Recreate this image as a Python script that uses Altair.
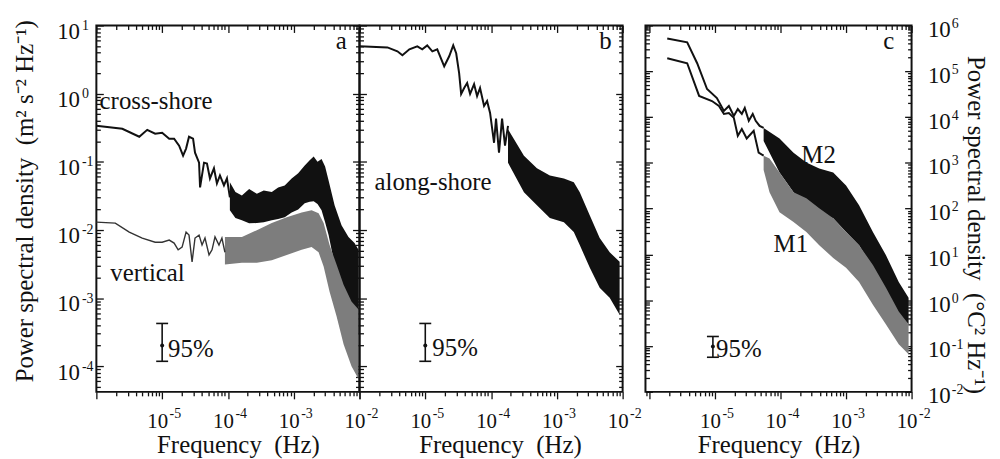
import altair as alt
import pandas as pd

FONT = "Liberation Serif"
BLACK = "#111111"
GREY = "#7d7d7d"

# ---------------- panel a : cross-shore and vertical velocity spectra ----------------
cross_line_f = [1.0e-6, 2.48e-6, 4.49e-6, 5.93e-6, 7.83e-6, 1.0e-5, 1.28e-5, 1.52e-5, 1.81e-5, 2.08e-5,
                2.31e-5, 2.56e-5, 2.95e-5, 3.16e-5, 3.64e-5, 3.77e-5, 4.33e-5, 4.8e-5, 5.33e-5, 6.13e-5,
                6.8e-5, 7.56e-5, 8.7e-5, 9.66e-5, 1.07e-4]
cross_line_v = [0.337, 0.305, 0.233, 0.294, 0.258, 0.267, 0.218, 0.218, 0.172, 0.123,
                0.156, 0.233, 0.218, 0.136, 0.097, 0.042, 0.097, 0.094, 0.057, 0.080,
                0.048, 0.063, 0.045, 0.057, 0.030]
cross_band_f = [1.07e-4, 1.3e-4, 1.63e-4, 2.1e-4, 2.75e-4, 3.5e-4, 4.64e-4, 5.8e-4, 7.3e-4, 9.3e-4,
                1.17e-3, 1.47e-3, 1.75e-3, 2.01e-3, 2.3e-3, 2.65e-3, 3.0e-3, 3.39e-3,
                4.18e-3, 5.33e-3, 6.8e-3, 8.4e-3, 9.66e-3]
cross_band_hi = [0.050, 0.036, 0.032, 0.040, 0.034, 0.038, 0.036, 0.042, 0.045, 0.057,
                 0.068, 0.088, 0.105, 0.12, 0.10, 0.11, 0.085, 0.053,
                 0.023, 0.0117, 0.0079, 0.0064, 0.0051]
cross_band_lo = [0.0195, 0.015, 0.0139, 0.0125, 0.0126, 0.013, 0.0139, 0.0145, 0.0154, 0.018,
                 0.020, 0.0246, 0.026, 0.0263, 0.024, 0.0195, 0.013, 0.0084,
                 0.0031, 0.00132, 0.00068, 0.00041, 0.00029]

vert_line_f = [1.0e-6, 1.94e-6, 3.16e-6, 4.98e-6, 7.83e-6, 1.0e-5, 1.28e-5, 1.52e-5, 1.75e-5, 2.01e-5,
               2.31e-5, 2.56e-5, 2.85e-5, 3.16e-5, 3.64e-5, 4.04e-5, 4.48e-5, 5.16e-5, 5.73e-5, 6.36e-5,
               7.31e-5, 8.1e-5, 9.0e-5]
vert_line_v = [0.0130, 0.0126, 0.0093, 0.0076, 0.0066, 0.0066, 0.0071, 0.0064, 0.0051, 0.0056,
               0.0093, 0.0084, 0.0034, 0.0076, 0.0084, 0.0060, 0.0076, 0.0043, 0.0051, 0.0079,
               0.0060, 0.0076, 0.0047]
vert_band_f = [9.0e-5, 1.63e-4, 2.75e-4, 4.64e-4, 7.83e-4, 1.32e-3, 1.87e-3, 2.39e-3, 2.85e-3, 3.51e-3,
               4.48e-3, 5.73e-3, 7.56e-3, 9.66e-3]
vert_band_hi = [0.0079, 0.0079, 0.0099, 0.0126, 0.0154, 0.018, 0.0195, 0.0176, 0.0126, 0.0060,
                0.0031, 0.00157, 0.00089, 0.00068]
vert_band_lo = [0.0031, 0.0033, 0.0033, 0.0036, 0.0043, 0.0051, 0.0056, 0.0047, 0.0029, 0.00124,
                0.00054, 0.00021, 0.0001, 6.5e-5]

# ---------------- panel b : along-shore velocity spectrum ----------------
along_line_f = [1.0e-6, 2.66e-6, 3.77e-6, 4.49e-6, 5.73e-6, 7.56e-6, 9.0e-6, 1.07e-5, 1.28e-5, 1.52e-5,
                1.94e-5, 2.31e-5, 2.66e-5, 2.95e-5, 3.27e-5, 3.51e-5, 3.9e-5, 4.33e-5, 4.8e-5, 5.52e-5,
                6.13e-5, 6.8e-5, 7.83e-5, 8.7e-5, 9.66e-5, 1.11e-4, 1.19e-4, 1.32e-4, 1.47e-4, 1.63e-4,
                1.81e-4]
along_line_v = [4.94, 4.77, 4.18, 3.66, 4.47, 4.94, 4.47, 5.1, 4.18, 4.47,
                2.52, 3.53, 5.1, 3.91, 2.0, 0.99, 1.21, 1.43, 0.99, 1.38,
                0.92, 1.21, 0.66, 0.78, 0.52, 0.19, 0.43, 0.136, 0.43, 0.172,
                0.337]
along_band_f = [1.81e-4, 3.16e-4, 4.98e-4, 7.83e-4, 1.28e-3, 1.81e-3, 2.23e-3, 3.16e-3, 4.48e-3, 6.36e-3,
                9.0e-3]
along_band_hi = [0.30, 0.123, 0.080, 0.063, 0.057, 0.050, 0.0356, 0.0164, 0.0076, 0.0047, 0.0034]
along_band_lo = [0.097, 0.0356, 0.023, 0.0149, 0.0130, 0.0093, 0.0060, 0.0028, 0.00142, 0.00101, 0.00057]

# ---------------- panel c : temperature spectra M1 / M2 ----------------
m2_line_f = [1.87e-6, 3.77e-6, 5.35e-6, 7.57e-6, 1.07e-5, 1.37e-5, 1.63e-5, 1.94e-5, 2.23e-5, 2.57e-5,
             2.85e-5, 3.28e-5, 3.77e-5, 4.18e-5, 4.8e-5, 5.53e-5]
m2_line_v = [5.2e5, 4.3e5, 1.5e5, 4.1e4, 2.6e4, 1.36e4, 1.75e4, 1.06e4, 1.5e4, 1.17e4,
             1.58e4, 8.3e3, 1.17e4, 8.3e3, 6.4e3, 5.8e3]
m2_band_f = [5.53e-5, 9.66e-5, 1.58e-4, 2.48e-4, 3.9e-4, 6.37e-4, 1.0e-3, 1.58e-3, 2.57e-3, 4.05e-3,
             6.37e-3, 9.0e-3]
m2_band_hi = [5.8e3, 3.4e3, 1.67e3, 1.02e3, 752, 617, 322, 119, 31, 9.8, 2.5, 1.14]
m2_band_lo = [3.0e3, 617, 227, 119, 84, 62, 31, 16, 5.1, 1.54, 0.49, 0.30]

m1_line_f = [1.87e-6, 3.77e-6, 5.73e-6, 9.0e-6, 1.15e-5, 1.37e-5, 1.63e-5, 1.94e-5, 2.23e-5, 2.57e-5,
             3.05e-5, 3.9e-5, 4.64e-5, 5.53e-5]
m1_line_v = [1.92e5, 1.5e5, 2.9e4, 2.24e4, 1.75e4, 1.17e4, 1.23e4, 9.6e3, 3.9e3, 5.5e3,
             3.4e3, 5.0e3, 1.67e3, 1.44e3]
m1_band_f = [5.53e-5, 6.8e-5, 9.66e-5, 1.58e-4, 2.48e-4, 3.9e-4, 6.37e-4, 1.0e-3, 1.58e-3, 2.57e-3,
             4.05e-3, 6.37e-3, 9.0e-3]
m1_band_hi = [1.44e3, 1.24e3, 617, 227, 168, 102, 62, 31, 16, 5.9, 1.9, 0.57, 0.30]
m1_band_lo = [700, 227, 84, 51, 31, 16, 8.4, 5.1, 2.5, 0.80, 0.30, 0.109, 0.066]

# 95% confidence bars (frequency, lower, centre, upper)
ebar_a = [1.0e-5, 1.18e-4, 2.02e-4, 4.24e-4]
ebar_b = [1.0e-5, 1.18e-4, 2.02e-4, 4.24e-4]
ebar_c = [9.3e-6, 0.057, 0.098, 0.162]

# annotations: (text, frequency, value, align)
notes_a = [("a", 5.3e-3, 4.47, "center"), ("cross-shore", 1.12e-6, 0.60, "left"),
           ("vertical", 1.63e-6, 0.0018, "left"), ("95%", 1.23e-5, 1.35e-4, "left")]
notes_b = [("b", 5.5e-3, 4.47, "center"), ("along-shore", 1.69e-6, 0.038, "left"),
           ("95%", 1.28e-5, 1.4e-4, "left")]
notes_c = [("c", 4.49e-3, 3.0e5, "center"), ("M2", 2.08e-4, 1.0e3, "left"),
           ("M1", 7.85e-5, 11.3, "left"), ("95%", 1.04e-5, 0.057, "left")]


def decades(lo, hi):
    return [10.0 ** e for e in range(-9, 9) if lo * 0.999 <= 10.0 ** e <= hi * 1.001]


def minors(lo, hi):
    out = []
    for e in range(-9, 9):
        for k in range(2, 10):
            v = k * 10.0 ** e
            if lo <= v <= hi:
                out.append(v)
    return out


EXP = "'' + round(log(datum.value) / LN10)"


def tick_axis(orient, values, size, offset=0):
    return alt.Axis(orient=orient, values=values, labels=False, domain=False, grid=False,
                    ticks=True, tickSize=size, tickWidth=1.3, tickColor=BLACK, offset=offset,
                    title=None)


def panel(xdom, ydom, W, H, series, notes, ebar, xlab, ylab_side, ylab, ytitle, title_shift):
    xs = alt.Scale(type="log", domain=xdom)
    ys = alt.Scale(type="log", domain=ydom)
    layers = []
    for s in series:
        if s[0] == "band":
            _, f, lo, hi, col = s
            df = pd.DataFrame({"f": f, "lo": lo, "hi": hi})
            layers.append(alt.Chart(df).mark_area(color=col, opacity=1).encode(
                x=alt.X("f:Q", scale=xs, axis=None),
                y=alt.Y("hi:Q", scale=ys, axis=None), y2="lo:Q"))
        else:
            _, f, v, col, w = s
            df = pd.DataFrame({"f": f, "v": v})
            layers.append(alt.Chart(df).mark_line(color=col, strokeWidth=w).encode(
                x=alt.X("f:Q", scale=xs, axis=None),
                y=alt.Y("v:Q", scale=ys, axis=None)))
    # confidence bar
    edf = pd.DataFrame({"f": [ebar[0]], "lo": [ebar[1]], "mid": [ebar[2]], "hi": [ebar[3]]})
    ex = alt.X("f:Q", scale=xs, axis=None)
    layers.append(alt.Chart(edf).mark_rule(color=BLACK, strokeWidth=1.6).encode(
        x=ex, y=alt.Y("hi:Q", scale=ys, axis=None), y2="lo:Q"))
    for fld in ["hi", "lo"]:
        layers.append(alt.Chart(edf).mark_tick(orient="horizontal", size=12, thickness=1.6,
                                               color=BLACK, opacity=1).encode(
            x=ex, y=alt.Y(fld + ":Q", scale=ys, axis=None)))
    layers.append(alt.Chart(edf).mark_point(filled=True, size=16, color=BLACK, opacity=1).encode(
        x=ex, y=alt.Y("mid:Q", scale=ys, axis=None)))
    # text notes
    for t, f, v, al in notes:
        ndf = pd.DataFrame({"f": [f], "v": [v], "t": [t]})
        layers.append(alt.Chart(ndf).mark_text(align=al, baseline="alphabetic", font=FONT,
                                               fontSize=25, color=BLACK).encode(
            x=alt.X("f:Q", scale=xs, axis=None), y=alt.Y("v:Q", scale=ys, axis=None), text="t:N"))

    xmaj = decades(*xdom)
    xmin = minors(*xdom)
    ymaj = decades(*ydom)
    ymin = minors(*ydom)

    x_axes = [
        alt.Axis(orient="bottom", values=xlab, labelExpr="'10'", ticks=False, domain=False, grid=False,
                 labelFont=FONT, labelFontSize=21, labelColor=BLACK, labelPadding=19, labelOffset=-5,
                 labelAlign="center", labelBaseline="top", labelFlush=False, labelOverlap=False,
                 title="Frequency\u00a0\u00a0(Hz)", titleFont=FONT, titleFontSize=25,
                 titleFontWeight="normal", titleColor=BLACK, titlePadding=1, titleX=W / 2 + title_shift),
        alt.Axis(orient="bottom", values=xlab, labelExpr=EXP, ticks=False, domain=False, grid=False,
                 labelFont=FONT, labelFontSize=14, labelColor=BLACK, labelPadding=15, labelOffset=7,
                 labelAlign="left", labelBaseline="top", labelFlush=False, labelOverlap=False, title=None),
        tick_axis("bottom", xmaj, 7),
        tick_axis("bottom", xmin, 4),
        tick_axis("bottom", xmaj, 7, -H),
        tick_axis("bottom", xmin, 4, -H),
    ]
    if ylab_side == "left":
        y10 = alt.Axis(orient="left", values=ylab, labelExpr="'10'", ticks=False, domain=False, grid=False,
                       labelFont=FONT, labelFontSize=23, labelColor=BLACK, labelPadding=17, labelOffset=6,
                       labelAlign="right", labelBaseline="middle", labelFlush=False, labelOverlap=False,
                       title=ytitle, titleFont=FONT, titleFontSize=25, titleFontWeight="normal",
                       titleColor=BLACK, titlePadding=19, titleY=H / 2 - 8)
        yexp = alt.Axis(orient="left", values=ylab, labelExpr=EXP, ticks=False, domain=False, grid=False,
                        labelFont=FONT, labelFontSize=14, labelColor=BLACK, labelPadding=15, labelOffset=0,
                        labelAlign="left", labelBaseline="middle", labelFlush=False, labelOverlap=False,
                        title=None)
    elif ylab_side == "right":
        y10 = alt.Axis(orient="right", values=ylab, labelExpr="'10'", ticks=False, domain=False, grid=False,
                       labelFont=FONT, labelFontSize=23, labelColor=BLACK, labelPadding=16, labelOffset=4,
                       labelAlign="left", labelBaseline="middle", labelFlush=False, labelOverlap=False,
                       title=ytitle, titleFont=FONT, titleFontSize=25, titleFontWeight="normal",
                       titleColor=BLACK, titlePadding=12, titleY=H / 2 + 16)
        yexp = alt.Axis(orient="right", values=ylab, labelExpr=EXP, ticks=False, domain=False, grid=False,
                        labelFont=FONT, labelFontSize=14, labelColor=BLACK, labelPadding=40, labelOffset=-2,
                        labelAlign="left", labelBaseline="middle", labelFlush=False, labelOverlap=False,
                        title=None)
    else:
        y10 = None
        yexp = None
    y_axes = [
        y10, yexp,
        tick_axis("right", ymaj, 7, -W),
        tick_axis("right", ymin, 4, -W),
        tick_axis("left", ymaj, 7, -W),
        tick_axis("left", ymin, 4, -W),
    ]
    dummy = pd.DataFrame({"f": [xdom[0] * 2], "v": [ydom[0] * 2]})
    for xa, ya in zip(x_axes, y_axes):
        layers.append(alt.Chart(dummy).mark_point(opacity=0).encode(
            x=alt.X("f:Q", scale=xs, axis=xa),
            y=alt.Y("v:Q", scale=ys, axis=ya)))
    return alt.layer(*layers).properties(width=W, height=H).resolve_axis(x="independent", y="independent")


H = 369
ydom_ab = [4.2e-5, 10.0]
xlab_ab = [1e-5, 1e-4, 1e-3, 1e-2]

pa = panel([1e-6, 1e-2], ydom_ab, 265, H,
           [("band", cross_band_f, cross_band_lo, cross_band_hi, BLACK),
            ("line", cross_line_f, cross_line_v, BLACK, 2.0),
            ("band", vert_band_f, vert_band_lo, vert_band_hi, GREY),
            ("line", vert_line_f, vert_line_v, "#333333", 1.4)],
           notes_a, ebar_a, xlab_ab, "left", [1e-4, 1e-3, 1e-2, 1e-1, 1.0, 10.0],
           "Power spectral density\u00a0\u00a0(m\u00b2 s\u207b\u00b2 Hz\u207b\u00b9)", 10)

pb = panel([1e-6, 1e-2], ydom_ab, 265, H,
           [("band", along_band_f, along_band_lo, along_band_hi, BLACK),
            ("line", along_line_f, along_line_v, BLACK, 2.0)],
           notes_b, ebar_b, xlab_ab, None, None, None, 9)

pc = panel([8.7e-7, 1e-2], [1e-2, 1e6], 268, H,
           [("band", m2_band_f, m2_band_lo, m2_band_hi, BLACK),
            ("line", m2_line_f, m2_line_v, BLACK, 2.0),
            ("band", m1_band_f, m1_band_lo, m1_band_hi, GREY),
            ("line", m1_line_f, m1_line_v, BLACK, 2.0)],
           notes_c, ebar_c, xlab_ab, "right", [1e-2, 1e-1, 1.0, 10.0, 1e2, 1e3, 1e4, 1e5, 1e6],
           "Power spectral density\u00a0\u00a0(\u00b0C\u00b2 Hz\u207b\u00b9)", 0)

spacer = alt.Chart(pd.DataFrame({"f": [1]})).mark_point(opacity=0).properties(
    width=23, height=H, view=alt.ViewBackground(stroke="transparent"))

chart = alt.hconcat(pa, pb, spacer, pc, spacing=0, bounds="flush").resolve_scale(
    x="independent", y="independent").configure_view(stroke=BLACK, strokeWidth=2).properties(
    padding={"left": 4, "top": 6, "right": 4, "bottom": 0})

chart.save("out.html", embed_options={"renderer": "svg", "actions": False})
